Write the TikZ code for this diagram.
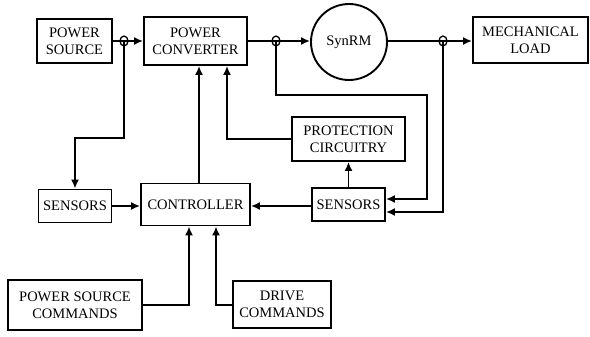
\documentclass[tikz,border=0pt]{standalone}
\usepackage{fontspec}
\setmainfont{Liberation Serif}
\usetikzlibrary{arrows.meta,shapes.geometric}
\begin{document}
\begin{tikzpicture}[x=1pt,y=-1pt,
  blk/.style={draw, line width=1.9pt, align=center, inner sep=0pt,
    font=\fontsize{14.5}{17}\selectfont},
  wire/.style={line width=1.7pt},
  arr/.style={wire,-{Latex[length=9pt,width=8pt]}},
  junc/.style={draw, line width=1.3pt, ellipse, minimum width=8pt,
    minimum height=10pt, inner sep=0pt}]
\useasboundingbox (0,0) rectangle (590,337);

% blocks
\node[blk, minimum width=75pt, minimum height=44pt] (ps) at (74.5,41) {POWER\\SOURCE};
\node[blk, minimum width=103pt, minimum height=48pt] (pc) at (195.5,41) {POWER\\CONVERTER};
\node[draw, line width=1.9pt, circle, minimum size=76pt, inner sep=0pt,
  font=\fontsize{14.5}{17}\selectfont] (m) at (349,42) {SynRM};
\node[blk, minimum width=115pt, minimum height=46pt] (ml) at (530.5,40) {MECHANICAL\\LOAD};
\node[blk, minimum width=113pt, minimum height=44pt] (pr) at (348.5,139) {PROTECTION\\CIRCUITRY};
\node[blk, minimum width=73pt, minimum height=33pt] (sr) at (348.5,204.5) {SENSORS};
\node[blk, minimum width=109pt, minimum height=42pt] (ct) at (195.5,204.5) {CONTROLLER};
\node[blk, minimum width=73pt, minimum height=33pt] (sl) at (75,206) {SENSORS};
\node[blk, minimum width=134pt, minimum height=50pt] (psc) at (75,305) {POWER SOURCE\\COMMANDS};
\node[blk, minimum width=98pt, minimum height=47pt] (dc) at (282,304.5) {DRIVE\\COMMANDS};

% junction points
\node[junc] (j1) at (124,41) {};
\node[junc] (j2) at (276,41) {};
\node[junc] (j3) at (443,41) {};

% power path
\draw[arr] (ps.east |- j1) -- (j1.center) -- (pc.west |- j1);
\draw[arr] (pc.east |- j2) -- (j2.center) -- (m.west |- j2);
\draw[arr] (m.east |- j3) -- (j3.center) -- (ml.west |- j3);

% sensing
\draw[arr] (j1.center) -- (124,138) -- (75,138) -- (sl.north);
\draw[arr] (j2.center) -- (276,95) -- (427,95) -- (427,199) -- (sr.east |- 0,199);
\draw[arr] (j3.center) -- (443,212) -- (sr.east |- 0,212);
\draw[arr] (sr.north) -- (pr.south);

% control
\draw[arr] (pr.west) -- (227,139) -- (pc.south -| 227,0);
\draw[arr] (ct.north -| 199,0) -- (pc.south -| 199,0);
\draw[arr] (sl.east |- 0,206) -- (ct.west |- 0,206);
\draw[arr] (sr.west |- 0,206) -- (ct.east |- 0,206);
\draw[arr] (psc.east) -- (189,305) -- (ct.south -| 189,0);
\draw[arr] (dc.west |- 0,305) -- (216,305) -- (ct.south -| 216,0);
\end{tikzpicture}
\end{document}
